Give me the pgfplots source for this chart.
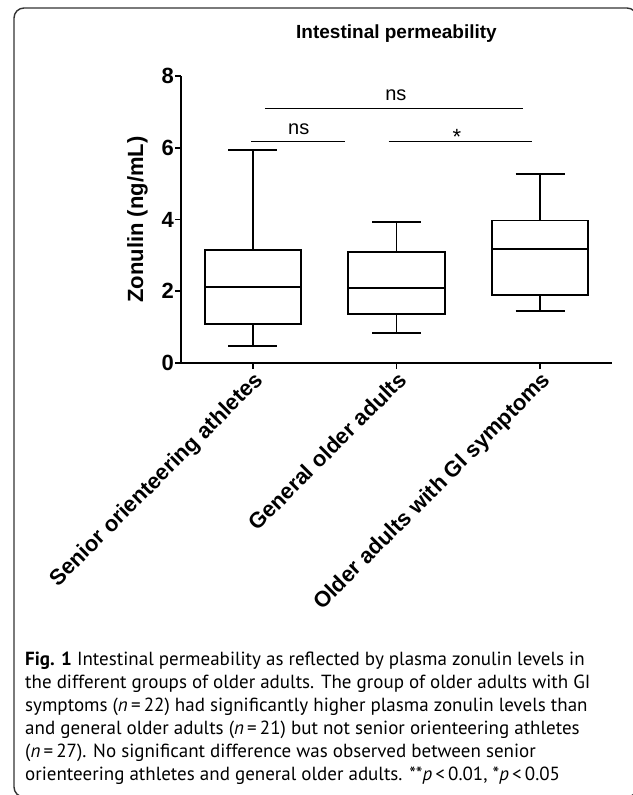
\documentclass[border=0pt]{standalone}
\usepackage{pgfplots}
\pgfplotsset{compat=1.18}
\usepgfplotslibrary{statistics}
\usepackage{fontspec}
\setmainfont{Liberation Sans}
\newfontfamily\capfont{PT Sans}

\begin{document}
\begin{tikzpicture}
\useasboundingbox (0,0) rectangle (633bp,-795bp);
% panel frame
\draw[line width=1.4bp, black!80, rounded corners=10bp] (14bp,-8bp) rectangle (637bp,-797bp);

\begin{axis}[
    at={(181bp,-363bp)}, anchor=south west,
    scale only axis, width=431bp, height=287bp,
    xmin=-0.5, xmax=2.5, ymin=0, ymax=8,
    axis x line*=bottom, axis y line*=left,
    axis line style={line width=1.8bp, -},
    boxplot/draw direction=y,
    xtick={0,1,2},
    xticklabels={Senior orienteering athletes, General older adults, Older adults with GI symptoms},
    ytick={0,2,4,6,8}, yticklabels={0,2,4,6,8},
    tick align=outside, major tick length=5.5bp,
    tick style={line width=1.8bp, black},
    ticklabel style={font=\fontsize{22bp}{24bp}\selectfont\bfseries},
    xticklabel style={rotate=45, anchor=north east, inner sep=1bp},
    yticklabel style={inner sep=1.5bp},
    ylabel={Zonulin (ng/mL)},
    ylabel style={font=\fontsize{22bp}{24bp}\selectfont\bfseries, at={(axis description cs:-0.088,0.5)}, anchor=base},
    title={Intestinal permeability},
    title style={font=\fontsize{19bp}{22bp}\selectfont\bfseries, at={(axis description cs:0.5,1)}, anchor=base, yshift=32bp},
    clip=false,
]
% boxes
\addplot[black, line width=1.8bp, boxplot prepared={draw position=0,
    lower whisker=0.48, lower quartile=1.09, median=2.11,
    upper quartile=3.15, upper whisker=5.94,
    box extend=0.67, whisker extend=0.34}] coordinates {};
\addplot[black, line width=1.8bp, boxplot prepared={draw position=1,
    lower whisker=0.84, lower quartile=1.36, median=2.10,
    upper quartile=3.09, upper whisker=3.92,
    box extend=0.67, whisker extend=0.34}] coordinates {};
\addplot[black, line width=1.8bp, boxplot prepared={draw position=2,
    lower whisker=1.46, lower quartile=1.89, median=3.18,
    upper quartile=3.97, upper whisker=5.27,
    box extend=0.67, whisker extend=0.34}] coordinates {};

% significance bars
\addplot[black, line width=1.2bp] coordinates {(0.084,7.10) (1.88,7.10)};
\addplot[black, line width=1.2bp] coordinates {(-0.01,6.17) (0.64,6.17)};
\addplot[black, line width=1.2bp] coordinates {(0.945,6.17) (1.94,6.17)};
\node[anchor=base, font=\fontsize{20bp}{22bp}\selectfont] at (axis cs:0.996,7.33) {ns};
\node[anchor=base, font=\fontsize{20bp}{22bp}\selectfont] at (axis cs:0.32,6.36) {ns};
\node[anchor=base, font=\fontsize{22bp}{24bp}\selectfont] at (axis cs:1.42,6.10) {*};
\end{axis}

% caption
\node[anchor=north west, inner sep=0pt, align=left, font=\capfont\fontsize{19bp}{23bp}\selectfont] at (25bp,-652bp) {%
\textbf{Fig. 1} Intestinal permeability as reflected by plasma zonulin levels in\\
the different groups of older adults. The group of older adults with GI\\
symptoms (\textit{n}\,=\,22) had significantly higher plasma zonulin levels than\\
and general older adults (\textit{n}\,=\,21) but not senior orienteering athletes\\
(\textit{n}\,=\,27). No significant difference was observed between senior\\
orienteering athletes and general older adults. **\textit{p}\,<\,0.01, *\textit{p}\,<\,0.05};
\end{tikzpicture}
\end{document}
